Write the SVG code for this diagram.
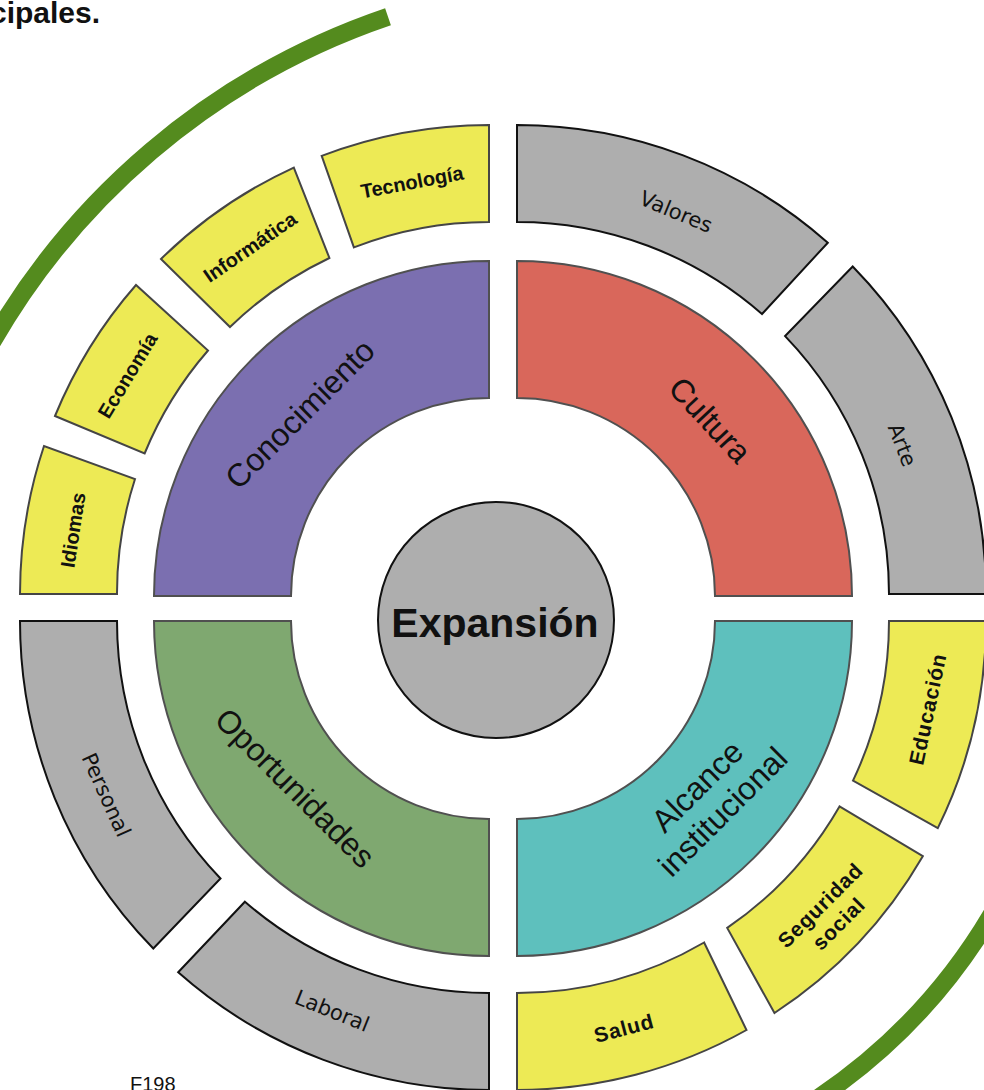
<svg xmlns="http://www.w3.org/2000/svg" width="984" height="1090" viewBox="0 0 984 1090">
<style>
text{font-family:"Liberation Sans",Arial,sans-serif;fill:#111}
.quad{stroke:#505050;stroke-width:2}
.yel{fill:#EDEA55;stroke:#454545;stroke-width:2}
.gry{fill:#AEAEAE;stroke:#111;stroke-width:2}
.ql{font-size:32px;text-anchor:middle;dominant-baseline:central}
.yl{font-size:20px;font-weight:bold;text-anchor:middle;dominant-baseline:central}
.yb{font-size:21px;letter-spacing:0.8px}
.gl{font-family:"DejaVu Sans",Verdana,sans-serif;font-size:21px;text-anchor:middle;dominant-baseline:central}
.arc{fill:none;stroke:#548B1E;stroke-width:18}
</style>
<rect width="984" height="1090" fill="#fff"/>
<text x="-10" y="23" style="font-size:30px;font-weight:bold">cipales.</text>
<g id="connectors">
<path class="arc" d="M -20 363.9 A 727 727 0 0 1 388 16.7"/>
<path class="arc" d="M 1000 899.9 A 576.5 576.5 0 0 1 815.3 1100"/>
</g>
<g id="conocimiento">
<path class="quad" fill="#7B6FB0" d="M 154 596 A 335 335 0 0 1 489 261 L 489 398 A 198 198 0 0 0 291 596 Z"/>
<text class="ql" transform="translate(300 414) rotate(-45)">Conocimiento</text>
</g>
<g id="cultura">
<path class="quad" fill="#D9675B" d="M 517 261 A 335 335 0 0 1 852 596 L 715 596 A 198 198 0 0 0 517 398 Z"/>
<text class="ql" transform="translate(710 420) rotate(47)">Cultura</text>
</g>
<g id="alcance">
<path class="quad" fill="#5EC0BD" d="M 852 621 A 335 335 0 0 1 517 956 L 517 819 A 198 198 0 0 0 715 621 Z"/>
<text class="ql" transform="translate(710 799) rotate(-45)"><tspan x="0" y="-18">Alcance</tspan><tspan x="0" y="18">institucional</tspan></text>
</g>
<g id="oportunidades">
<path class="quad" fill="#7FA870" d="M 489 956 A 335 335 0 0 1 154 621 L 291 621 A 198 198 0 0 0 489 819 Z"/>
<text class="ql" transform="translate(295 788) rotate(45)">Oportunidades</text>
</g>
<g id="expansion">
<circle cx="496" cy="620" r="118" fill="#AEAEAE" stroke="#111" stroke-width="2"/>
<text x="495" y="637" style="font-size:41px;font-weight:bold;text-anchor:middle">Expansión</text>
</g>
<g id="idiomas">
<path class="yel" d="M 20 594 L 117 594 A 372 372 0 0 1 135 479 L 44 446 A 469 469 0 0 0 20 594 Z"/>
<text class="yl" transform="translate(73 530) rotate(-81.3)">Idiomas</text>
</g>
<g id="economia">
<path class="yel" d="M 55 416 L 144.6 453.5 A 372 372 0 0 1 208 350.5 L 136 285 A 469 469 0 0 0 55 416 Z"/>
<text class="yl" transform="translate(127.5 375.5) rotate(-58.9)">Economía</text>
</g>
<g id="informatica">
<path class="yel" d="M 161 259 L 230 327 A 372 372 0 0 1 329.4 258 L 293.8 167.6 A 469 469 0 0 0 161 259 Z"/>
<text class="yl" transform="translate(250 247) rotate(-34.6)">Informática</text>
</g>
<g id="tecnologia">
<path class="yel" d="M 321.7 155.9 L 353.9 247.4 A 372 372 0 0 1 489 222 L 489 125 A 469 469 0 0 0 321.7 155.9 Z"/>
<text class="yl" transform="translate(412 182) rotate(-10.6)">Tecnología</text>
</g>
<g id="valores">
<path class="gry" d="M 517 125 A 469 469 0 0 1 827.8 242.7 L 762 314 A 372 372 0 0 0 517 222 Z"/>
<text class="gl" transform="translate(676 212) rotate(22.6)">Valores</text>
</g>
<g id="arte">
<path class="gry" d="M 852.7 266.5 A 469 469 0 0 1 986 594 L 889 594 A 372 372 0 0 0 785.1 336.1 Z"/>
<text class="gl" transform="translate(902 445) rotate(68.8)">Arte</text>
</g>
<g id="educacion">
<path class="yel" d="M 889 621 L 986 621 A 469 469 0 0 1 937.8 828.1 L 853 780.6 A 372 372 0 0 0 889 621 Z"/>
<text class="yl yb" transform="translate(927.5 709) rotate(-77.9)">Educación</text>
</g>
<g id="seguridad">
<path class="yel" d="M 839.5 806.4 L 922.8 856.2 A 469 469 0 0 1 774.5 1013 L 727.2 927.9 A 372 372 0 0 0 839.5 806.4 Z"/>
<text class="yl yb" transform="translate(829 914) rotate(-45)"><tspan x="0" y="-13">Seguridad</tspan><tspan x="0" y="13">social</tspan></text>
</g>
<g id="salud">
<path class="yel" d="M 704.1 942.5 L 746.5 1030 A 469 469 0 0 1 517 1090 L 517 993 A 372 372 0 0 0 704.1 942.5 Z"/>
<text class="yl yb" transform="translate(624 1028) rotate(-14.7)">Salud</text>
</g>
<g id="personal">
<path class="gry" d="M 117 621 L 20 621 A 469 469 0 0 0 153.3 948.5 L 220.5 878.5 A 372 372 0 0 1 117 621 Z"/>
<text class="gl" transform="translate(106 795) rotate(65.6)">Personal</text>
</g>
<g id="laboral">
<path class="gry" d="M 178.2 972.3 A 469 469 0 0 0 489 1090 L 489 993 A 372 372 0 0 1 244.9 901.7 Z"/>
<text class="gl" transform="translate(332 1011) rotate(21.9)">Laboral</text>
</g>
<text x="130" y="1091" style="font-size:20px">F198</text>
</svg>
